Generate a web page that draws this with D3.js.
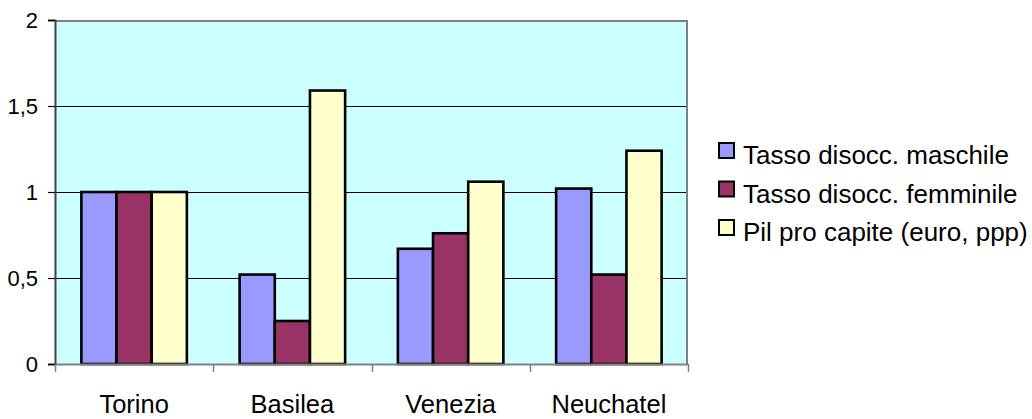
<!DOCTYPE html>
<html>
<head>
<meta charset="utf-8">
<script src="https://cdn.jsdelivr.net/npm/d3@7"></script>
<style>
  html, body { margin: 0; padding: 0; background: #ffffff; }
  svg { display: block; font-family: "Liberation Sans", Arial, sans-serif; }
</style>
</head>
<body>
<svg id="chart" width="1032" height="419"></svg>
<script>
// Indicatori relativi (Torino = 1)
const categories = ["Torino", "Basilea", "Venezia", "Neuchatel"];
const seriesNames = ["Tasso disocc. maschile", "Tasso disocc. femminile", "Pil pro capite (euro, ppp)"];
const maschile = [1.00, 0.52, 0.67, 1.02];
const femminile = [1.00, 0.25, 0.76, 0.52];
const pil = [1.00, 1.59, 1.06, 1.24];
const yTicks = [0, 0.5, 1, 1.5, 2];
const yTickLabels = ["0", "0,5", "1", "1,5", "2"];
const seriesColors = ["#9999FF", "#993366", "#FFFFCC"];

const seriesValues = [maschile, femminile, pil];

const svg = d3.select("#chart");
const plot = { left: 55, right: 688, top: 20, bottom: 364 };

const x0 = d3.scaleBand()
  .domain(categories)
  .range([plot.left, plot.right])
  .padding(0);

const x1 = d3.scaleBand()
  .domain(d3.range(seriesNames.length))
  .range([0, x0.bandwidth()])
  .paddingInner(0)
  .paddingOuter(0.75);

const y = d3.scaleLinear()
  .domain([0, 2])
  .range([plot.bottom, plot.top]);

// plot area background
svg.append("rect")
  .attr("x", plot.left)
  .attr("y", plot.top)
  .attr("width", plot.right - plot.left)
  .attr("height", plot.bottom - plot.top)
  .attr("fill", "#CCFFFF");

// horizontal gridlines
svg.append("g")
  .selectAll("line")
  .data(yTicks.filter(t => t > 0 && t < 2))
  .join("line")
  .attr("x1", plot.left)
  .attr("x2", plot.right)
  .attr("y1", d => Math.round(y(d)) + 0.5)
  .attr("y2", d => Math.round(y(d)) + 0.5)
  .attr("stroke", "#000")
  .attr("stroke-width", 1);

// plot border (top and right)
svg.append("path")
  .attr("d", `M${plot.left},${plot.top + 1}H${plot.right - 1}V${plot.bottom}`)
  .attr("fill", "none")
  .attr("stroke", "#808080")
  .attr("stroke-width", 2);

// bars
const barData = [];
categories.forEach((c, ci) => {
  seriesValues.forEach((vals, si) => {
    barData.push({ cat: c, s: si, v: vals[ci] });
  });
});

svg.append("g")
  .selectAll("rect")
  .data(barData)
  .join("rect")
  .attr("x", d => x0(d.cat) + x1(d.s))
  .attr("y", d => y(d.v))
  .attr("width", x1.bandwidth())
  .attr("height", d => y(0) - y(d.v))
  .attr("fill", d => seriesColors[d.s])
  .attr("stroke", "#000")
  .attr("stroke-width", 2.6);

// y axis
const yAxis = d3.axisLeft(y)
  .tickValues(yTicks)
  .tickFormat((d, i) => yTickLabels[i])
  .tickSize(7)
  .tickPadding(10);

const gy = svg.append("g")
  .attr("transform", `translate(${plot.left},0)`)
  .call(yAxis);
gy.select(".domain").attr("stroke", "#404040").attr("stroke-width", 2);
gy.selectAll(".tick line").attr("stroke", "#000").attr("stroke-width", 1.2);
gy.selectAll(".tick text")
  .attr("font-size", 22)
  .attr("fill", "#000")
  .attr("font-family", "Liberation Sans, Arial, sans-serif");

// x axis baseline and category separators
const xAxis = d3.axisBottom(x0).tickSize(0).tickPadding(0);
const gx = svg.append("g")
  .attr("transform", `translate(0,${plot.bottom})`)
  .call(xAxis);
gx.select(".domain").attr("stroke", "#808080").attr("stroke-width", 2);
gx.selectAll(".tick text")
  .attr("dy", 0)
  .attr("y", 49)
  .attr("font-size", 25.5)
  .attr("fill", "#000")
  .attr("font-family", "Liberation Sans, Arial, sans-serif");

const boundaries = categories.map(c => x0(c)).concat([x0(categories[categories.length - 1]) + x0.bandwidth()]);
gx.append("g")
  .selectAll("line")
  .data(boundaries)
  .join("line")
  .attr("x1", d => Math.round(d) + 0.5)
  .attr("x2", d => Math.round(d) + 0.5)
  .attr("y1", 0)
  .attr("y2", 8)
  .attr("stroke", "#808080")
  .attr("stroke-width", 1.5);

// legend
const legend = svg.append("g").attr("transform", "translate(718,142)");
const rowH = 38.5;
const items = legend.selectAll("g")
  .data(seriesNames)
  .join("g")
  .attr("transform", (d, i) => `translate(0,${i * rowH})`);
items.append("rect")
  .attr("x", 1)
  .attr("y", 1)
  .attr("width", 15)
  .attr("height", 15)
  .attr("fill", (d, i) => seriesColors[i])
  .attr("stroke", "#000")
  .attr("stroke-width", 2);
items.append("text")
  .attr("x", 25)
  .attr("y", 22)
  .attr("font-size", 26)
  .attr("fill", "#000")
  .text(d => d);
</script>
</body>
</html>
